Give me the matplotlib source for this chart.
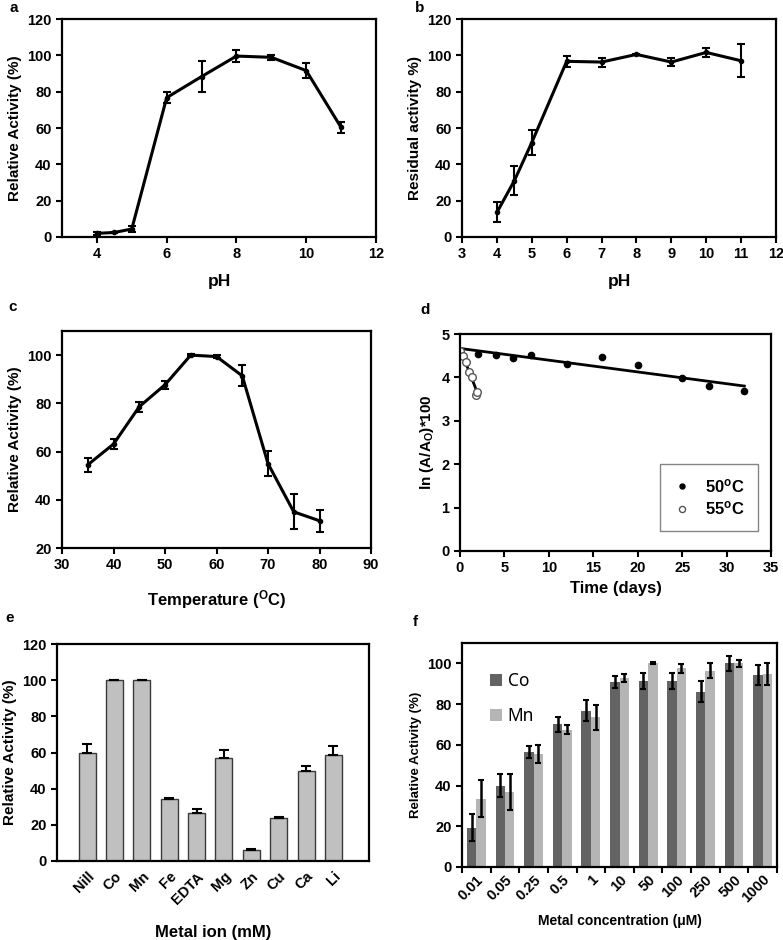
import numpy as np
import matplotlib
matplotlib.use("Agg")
import matplotlib.pyplot as plt

plt.rcParams['font.family'] = ['Liberation Sans', 'DejaVu Sans']
plt.rcParams['font.weight'] = 'bold'
plt.rcParams['axes.labelweight'] = 'bold'
plt.rcParams['mathtext.fontset'] = 'custom'
plt.rcParams['mathtext.rm'] = 'Liberation Sans:bold'
plt.rcParams['mathtext.bf'] = 'Liberation Sans:bold'
plt.rcParams['mathtext.it'] = 'Liberation Sans:bold:italic'

# a - pH optimum
ph_a = [4, 4.5, 5, 6, 7, 8, 9, 10, 11]
act_a = [2, 2.5, 4.4, 76.7, 88.3, 99.6, 98.9, 91.6, 60.3]
err_a = [1, 0.5, 1.7, 3, 8.7, 3.5, 1.5, 4, 3]

# b - pH stability
ph_b = [4, 4.5, 5, 6, 7, 8, 9, 10, 11]
act_b = [13.5, 31, 52, 96.7, 96.3, 100.5, 96.3, 101.6, 97]
err_b = [5.5, 8, 7, 3, 2.5, 0.5, 2, 2.7, 9]

# c - temperature optimum
temp_c = [35, 40, 45, 50, 55, 60, 65, 70, 75, 80]
act_c = [54.5, 63.1, 78.6, 87.7, 100, 99.4, 91.4, 55, 35, 31.3]
err_c = [2.8, 2.1, 2, 1.6, 0.3, 0.5, 4.3, 5.3, 7.2, 4.6]

# d - thermal inactivation
days_50 = [0, 2, 4, 6, 8, 12, 16, 20, 25, 28, 32]
ln_50 = [4.61, 4.55, 4.52, 4.45, 4.51, 4.32, 4.48, 4.28, 3.99, 3.80, 3.69]
days_55 = [0, 0.37, 0.71, 1.05, 1.39, 1.85, 1.95]
ln_55 = [4.61, 4.49, 4.35, 4.12, 4.02, 3.60, 3.67]

# e - metal ions
ions = ['Nill', 'Co', 'Mn', 'Fe', 'EDTA', 'Mg', 'Zn', 'Cu', 'Ca', 'Li']
act_e = [59.8, 99.9, 100, 34.3, 26.8, 57.2, 6.1, 23.6, 50, 58.7]
err_e = [4.8, 0.3, 0.3, 0.7, 2, 4, 0.5, 0.9, 2.4, 4.8]

# f - Co / Mn concentration
conc = ['0.01', '0.05', '0.25', '0.5', '1', '10', '50', '100', '250', '500', '1000']
co = [19.3, 40, 56.5, 70, 76.8, 90.7, 91.3, 91.3, 86.1, 100, 94.4]
co_err = [6.5, 5.5, 3, 3.7, 5, 3, 4, 4, 5.3, 3.6, 5]
mn = [33.5, 36.8, 55.5, 67.5, 73.5, 92.8, 100.3, 97.7, 96.4, 100, 94.8]
mn_err = [9, 9, 4.5, 2, 6, 2, 0.5, 2.2, 3.8, 1.6, 5.4]

W, H = 783, 940
fig = plt.figure(figsize=(W / 100, H / 100), dpi=100)


def box(l, t, r, b):
    return [l / W, 1 - b / H, (r - l) / W, (b - t) / H]


def style(ax):
    for s in ax.spines.values():
        s.set_linewidth(1.6)
    ax.tick_params(direction='out', width=1.5, length=4, labelsize=10.5)


def line_err(ax, x, y, e):
    ax.errorbar(x, y, yerr=e, color='k', lw=2.2, marker='o', ms=3,
                capsize=3, elinewidth=1.5, capthick=1.5)


# a
ax = fig.add_axes(box(62, 19, 376, 237))
line_err(ax, ph_a, act_a, err_a)
ax.set_xlim(3, 12)
ax.set_xticks([4, 6, 8, 10, 12])
ax.set_ylim(0, 120)
ax.set_yticks(range(0, 121, 20))
ax.set_xlabel('pH', fontsize=12.5, labelpad=9)
ax.set_ylabel('Relative Activity (%)', fontsize=11)
style(ax)

# b
ax = fig.add_axes(box(462, 19, 776, 237))
line_err(ax, ph_b, act_b, err_b)
ax.set_xlim(3, 12)
ax.set_xticks(range(3, 13))
ax.set_ylim(0, 120)
ax.set_yticks(range(0, 121, 20))
ax.set_xlabel('pH', fontsize=12.5, labelpad=9)
ax.set_ylabel('Residual activity %)', fontsize=11)
style(ax)

# c
ax = fig.add_axes(box(62, 331, 371, 548))
line_err(ax, temp_c, act_c, err_c)
ax.set_xlim(30, 90)
ax.set_ylim(20, 110)
ax.set_yticks(range(20, 101, 20))
ax.set_xlabel(r'Temperature ($^{\rm O}$C)', fontsize=12, labelpad=11)
ax.set_ylabel('Relative Activity (%)', fontsize=11)
style(ax)

# d
ax = fig.add_axes(box(460, 334, 771, 551))
k50 = np.polyfit(days_50, ln_50, 1)
k55 = np.polyfit(days_55, ln_55, 1)
xs50 = np.array([min(days_50), max(days_50)])
xs55 = np.array([min(days_55), max(days_55)])
ax.plot(xs50, np.polyval(k50, xs50), color='k', lw=2)
ax.plot(xs55, np.polyval(k55, xs55), color='k', lw=2)
ax.plot(days_50, ln_50, 'o', color='k', ms=4.5, label=r'50$^{\rm o}$C')
ax.plot(days_55, ln_55, 'o', mfc='white', mec='#555555', mew=1, ms=5.5,
        label=r'55$^{\rm o}$C')
ax.set_xlim(0, 35)
ax.set_ylim(0, 5)
ax.set_xlabel('Time (days)', fontsize=12)
ax.set_ylabel(r'ln (A/A$_{\rm O}$)*100', fontsize=11)
leg = ax.legend(loc='lower right', bbox_to_anchor=(0.985, 0.055), fancybox=False,
                edgecolor='#666666', fontsize=12, handlelength=1.0,
                handletextpad=0.9, borderpad=0.8, labelspacing=0.25,
                markerscale=0.8)
leg.get_frame().set_linewidth(1)
style(ax)

# e
ax = fig.add_axes(box(57, 644, 369, 861))
xe = np.arange(len(ions))
ax.bar(xe, act_e, width=0.62, color='#c0c0c0', edgecolor='#3a3a3a', lw=1)
ax.errorbar(xe, act_e, yerr=[np.zeros(len(err_e)), err_e], fmt='none',
            ecolor='k', elinewidth=1.5, capsize=3.5, capthick=1.5)
ax.set_xlim(-1.1, 10.3)
ax.set_ylim(0, 120)
ax.set_yticks(range(0, 121, 20))
ax.set_xticks(xe)
ax.set_xticklabels(ions, rotation=45, ha='right', rotation_mode='anchor')
ax.set_xlabel('Metal ion (mM)', fontsize=12, labelpad=13)
ax.set_ylabel('Relative Activity (%)', fontsize=11)
style(ax)
ax.tick_params(axis='x', length=0, pad=6)

# f
ax = fig.add_axes(box(462, 643, 777, 867))
xf = np.arange(len(conc))
bw = 0.33
ax.bar(xf - bw / 2, co, width=bw, color='#636363', label='Co')
ax.bar(xf + bw / 2, mn, width=bw, color='#b5b5b5', label='Mn')
ax.errorbar(xf - bw / 2, co, yerr=co_err, fmt='none', ecolor='k',
            elinewidth=1.8, capsize=2.2, capthick=1.5)
ax.errorbar(xf + bw / 2, mn, yerr=mn_err, fmt='none', ecolor='k',
            elinewidth=1.8, capsize=2.2, capthick=1.5)
ax.set_xlim(-0.5, len(conc) - 0.5)
ax.set_ylim(0, 110)
ax.set_yticks(range(0, 101, 20))
ax.set_xticks(xf)
ax.set_xticklabels(conc, rotation=45, ha='right', rotation_mode='anchor',
                   fontsize=10, fontweight='bold')
ax.set_xticks(np.arange(-0.5, len(conc)), minor=True)
ax.set_xlabel('Metal concentration (\u03bcM)', fontsize=10, labelpad=6)
ax.set_ylabel('Relative Activity (%)', fontsize=9.5)
style(ax)
ax.tick_params(axis='x', which='major', length=0, pad=4)
ax.tick_params(axis='x', which='minor', direction='out', length=4, width=1.5)
ax.legend(loc='upper left', bbox_to_anchor=(0.04, 0.94), frameon=False,
          prop={'family': 'Noto Sans', 'weight': 'normal', 'size': 12.5},
          handlelength=0.7, handleheight=0.7, handletextpad=0.3,
          labelspacing=1.0)

# panel letters
for lab, px, py in [('a', 9, 8), ('b', 415, 8), ('c', 8, 307),
                    ('d', 420, 310), ('e', 5, 618), ('f', 413, 622)]:
    fig.text(px / W, 1 - py / H, lab, fontsize=11, fontweight='bold',
             va='center')

fig.savefig('out.png', dpi=100)
